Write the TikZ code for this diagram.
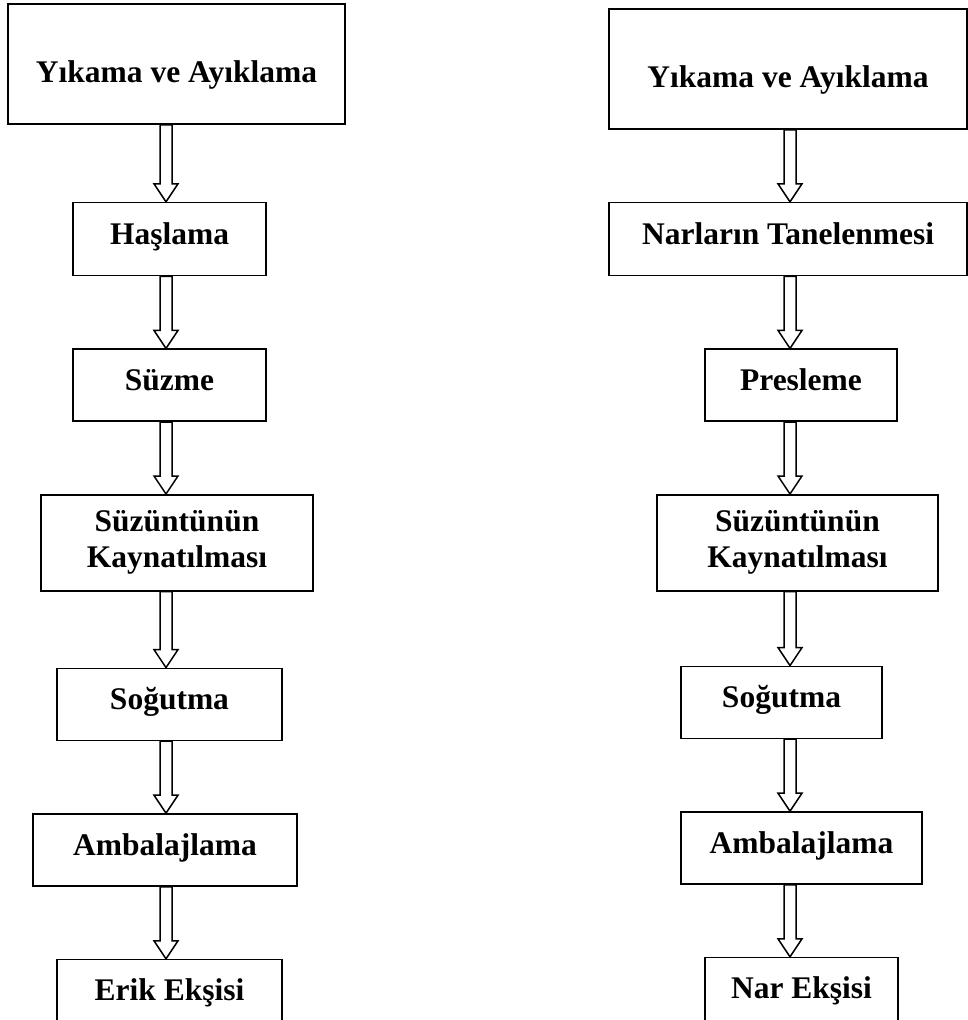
\documentclass[tikz,border=0pt]{standalone}
\usepackage{fontspec}
\setmainfont{Liberation Serif}
\usepackage{tikz}
\usetikzlibrary{positioning,calc}
\newcommand{\hollowdown}[3]{%
  \draw[hollow] ($(#2.south -| #1)+(-6,0)$) -- ($(#3.north -| #1)+(-6,18)$) -- ++(-6,0)
    -- (#3.north -| #1) -- ++(12,18) -- ++(-6,0) -- ($(#2.south -| #1)+(6,0)$) -- cycle;}

\begin{document}
\begin{tikzpicture}[
    x=1pt, y=1pt,
    node distance=72pt,
    stepbox/.style={draw, line width=1.6pt, align=center, inner sep=0pt, minimum height=72pt,
      font=\bfseries\fontsize{31.5}{36}\selectfont},
    onebox/.style={stepbox, text height=22pt, text depth=12pt},
    headbox/.style={stepbox, minimum height=120pt, text height=36pt, text depth=0pt},
    hollow/.style={draw, fill=white, line width=1.5pt}
]
\useasboundingbox (0,0) rectangle (968,-1020);
\coordinate (colL) at (166,0);
\coordinate (colR) at (790,0);

% erik eksisi
\node[headbox, minimum width=337pt] (yikL) at (176.5,-64) {Yıkama ve Ayıklama};
\node[onebox, minimum width=193pt, minimum height=73pt, below=77pt of yikL, xshift=-7pt] (hasL) {Haşlama};
\node[onebox, minimum width=193pt, below=of hasL] (suzL) {Süzme};
\node[stepbox, minimum width=272pt, minimum height=96pt, below=of suzL, xshift=7.5pt] (kayL) {Süzüntünün\\Kaynatılması};
\node[onebox, minimum width=225pt, below=76pt of kayL, xshift=-7.5pt] (sogL) {Soğutma};
\node[onebox, minimum width=264pt, below=of sogL, xshift=-4.5pt] (ambL) {Ambalajlama};
\node[onebox, minimum width=225pt, below=of ambL, xshift=4.5pt] (erik) {Erik Ekşisi};

% nar eksisi
\node[headbox, minimum width=358pt] (yikR) at (788,-69) {Yıkama ve Ayıklama};
\node[onebox, minimum width=358pt, minimum height=73pt, below=of yikR] (tanR) {Narların Tanelenmesi};
\node[onebox, minimum width=192pt, below=of tanR, xshift=13pt] (presR) {Presleme};
\node[stepbox, minimum width=281pt, minimum height=96pt, below=of presR, xshift=-3.5pt] (kayR) {Süzüntünün\\Kaynatılması};
\node[onebox, minimum width=201pt, below=74pt of kayR, xshift=-16pt] (sogR) {Soğutma};
\node[onebox, minimum width=241pt, below=of sogR, xshift=20pt] (ambR) {Ambalajlama};
\node[onebox, minimum width=193pt, below=of ambR] (nar) {Nar Ekşisi};

\hollowdown{colL}{yikL}{hasL}
\hollowdown{colL}{hasL}{suzL}
\hollowdown{colL}{suzL}{kayL}
\hollowdown{colL}{kayL}{sogL}
\hollowdown{colL}{sogL}{ambL}
\hollowdown{colL}{ambL}{erik}

\hollowdown{colR}{yikR}{tanR}
\hollowdown{colR}{tanR}{presR}
\hollowdown{colR}{presR}{kayR}
\hollowdown{colR}{kayR}{sogR}
\hollowdown{colR}{sogR}{ambR}
\hollowdown{colR}{ambR}{nar}
\end{tikzpicture}
\end{document}
